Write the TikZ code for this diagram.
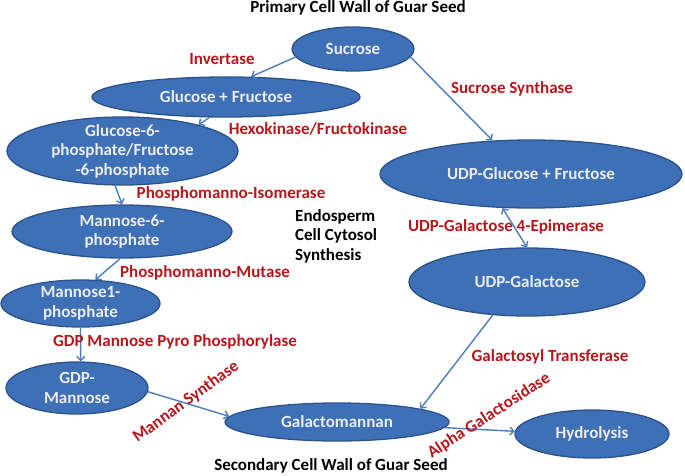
\documentclass[tikz,border=0pt]{standalone}
\usepackage{fontspec}
\setmainfont{Carlito}
\usetikzlibrary{shapes.geometric,arrows.meta}
\definecolor{ellfill}{RGB}{62,112,184}
\definecolor{ellline}{RGB}{44,82,140}
\definecolor{elltext}{RGB}{236,236,236}
\definecolor{labred}{RGB}{185,22,28}
\definecolor{arrcol}{RGB}{74,126,190}
\begin{document}
\begin{tikzpicture}[x=1pt,y=-1pt,
  ell/.style={ellipse, draw=ellline, fill=ellfill, line width=1.3pt, inner sep=0pt},
  eltxt/.style={text=elltext, font=\fontsize{17}{19.5}\selectfont\bfseries, align=center, inner sep=0pt},
  enz/.style={text=labred, font=\fontsize{17}{19.5}\selectfont\bfseries, inner sep=0pt},
  ttl/.style={text=black, font=\fontsize{17}{19.5}\selectfont\bfseries, inner sep=0pt},
  conn/.style={draw=arrcol, line width=1.4pt, -{Straight Barb[length=4pt,width=8pt]}},
  dconn/.style={draw=arrcol, line width=1.4pt, {Straight Barb[length=4pt,width=8pt]}-{Straight Barb[length=4pt,width=8pt]}},
]
\useasboundingbox (0,0) rectangle (685,476);

% ellipses
\node[ell, minimum width=122pt, minimum height=44pt, label={[eltxt]center:Sucrose}] (suc) at (353,49) {};
\node[ell, minimum width=268pt, minimum height=40pt, label={[eltxt]center:Glucose + Fructose}] (gf) at (226,97) {};
\node[ell, minimum width=231pt, minimum height=68pt, label={[eltxt]center:Glucose-6-\\phosphate/Fructose\\-6-phosphate}] (gsp) at (122.5,151) {};
\node[ell, minimum width=220pt, minimum height=53pt, label={[eltxt]center:Mannose-6-\\phosphate}] (msp) at (122,231.5) {};
\node[ell, minimum width=159pt, minimum height=47pt, label={[eltxt]center:Mannose1-\\phosphate}] (mop) at (80.5,303.5) {};
\node[ell, minimum width=142pt, minimum height=52pt, label={[eltxt]center:GDP-\\Mannose}] (gdpm) at (77,388) {};
\node[ell, minimum width=224pt, minimum height=38pt, label={[eltxt]center:Galactomannan}] (gm) at (337,422) {};
\node[ell, minimum width=154pt, minimum height=48pt, label={[eltxt]center:Hydrolysis}] (hyd) at (592,434) {};
\node[ell, minimum width=302pt, minimum height=68pt, label={[eltxt]center:UDP-Glucose + Fructose}] (udpg) at (531,174) {};
\node[ell, minimum width=236pt, minimum height=68pt, label={[eltxt]center:UDP-Galactose}] (udpgal) at (527,282) {};

% connectors
\draw[conn] (suc.188) -- (gf.39);
\draw[conn] (suc.-8) -- (udpg.139);
\draw[conn] (gf.231) -- (gsp.19);
\draw[conn] (gsp.258) -- (msp.90);
\draw[conn] (msp.266) -- (mop.58);
\draw[conn] (mop.south) -- (gdpm.82);
\draw[conn] (gdpm.-3) -- (gm.177);
\draw[dconn] (udpg.230) -- (udpgal.90);
\draw[conn] (udpgal.224) -- (gm.9);
\draw[conn] (gm.-3) -- (hyd.178);

% enzyme labels
\node[enz] (l1) at (222,59) {Invertase};
\node[enz] (l2) at (318,129) {Hexokinase/Fructokinase};
\node[enz] (l3) at (231,194) {Phosphomanno-Isomerase};
\node[enz] (l4) at (205,273) {Phosphomanno-Mutase};
\node[enz] (l5) at (175,342) {GDP Mannose Pyro Phosphorylase};
\node[enz] (l6) at (512,89) {Sucrose Synthase};
\node[enz] (l7) at (506,227) {UDP-Galactose 4-Epimerase};
\node[enz] (l8) at (550,357) {Galactosyl Transferase};
\node[enz, rotate=36] (l9) at (186,402) {Mannan Synthase};
\node[enz, rotate=33] (l10) at (489,416) {Alpha Galactosidase};

% titles
\node[ttl, anchor=west, align=left] (cyto) at (295,236) {Endosperm\\Cell Cytosol\\Synthesis};
\node[ttl] (top) at (358,8) {Primary Cell Wall of Guar Seed};
\node[ttl] (bot) at (331,466) {Secondary Cell Wall of Guar Seed};
\end{tikzpicture}
\end{document}
